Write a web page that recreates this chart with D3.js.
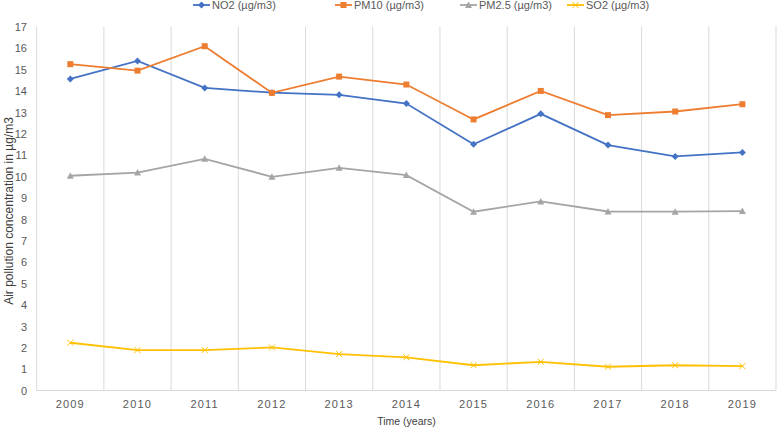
<!DOCTYPE html>
<html><head><meta charset="utf-8">
<script src="https://cdn.jsdelivr.net/npm/d3@7"></script>
<style>body{margin:0;background:#fff}svg{display:block}text{font-family:"Liberation Sans",Arial,sans-serif}</style>
</head><body><svg id="c" width="777" height="429"></svg>
<script>
const years = ["2009","2010","2011","2012","2013","2014","2015","2016","2017","2018","2019"];
const no2  = [14.55,15.39,14.13,13.91,13.81,13.40,11.50,12.92,11.46,10.93,11.12];
const pm10 = [15.24,14.94,16.08,13.90,14.66,14.29,12.66,13.99,12.86,13.03,13.37];
const pm25 = [10.03,10.18,10.82,9.98,10.40,10.06,8.35,8.83,8.36,8.35,8.38];
const so2  = [2.23,1.89,1.89,2.01,1.70,1.55,1.18,1.34,1.11,1.18,1.14];
const seriesNames = ["NO2 (µg/m3)","PM10 (µg/m3)","PM2.5 (µg/m3)","SO2 (µg/m3)"];
const yTicks = d3.range(0,18);

const series = [
  {name:seriesNames[0], values:no2,  color:"#4472C4", sym:"diamond"},
  {name:seriesNames[1], values:pm10, color:"#ED7D31", sym:"square"},
  {name:seriesNames[2], values:pm25, color:"#A5A5A5", sym:"triangle"},
  {name:seriesNames[3], values:so2,  color:"#FFC000", sym:"x"}
];

const svg = d3.select("#c");
const x = d3.scaleBand().domain(years).range([36.7, 776]).padding(0);
const y = d3.scaleLinear().domain([0,17]).range([390.5, 26.5]);

// vertical gridlines at category boundaries
const bounds = years.map(d=>x(d)).concat([x.range()[1]]);
svg.append("g").selectAll("line").data(bounds).join("line")
  .attr("x1",d=>d).attr("x2",d=>d).attr("y1",y(17)).attr("y2",y(0))
  .attr("stroke","#d9d9d9").attr("stroke-width",1);
// baseline
svg.append("line").attr("x1",x.range()[0]).attr("x2",x.range()[1]).attr("y1",y(0)).attr("y2",y(0))
  .attr("stroke","#d9d9d9").attr("stroke-width",1);

// y axis
const yAxis = d3.axisLeft(y).tickValues(yTicks).tickSize(0).tickPadding(0).tickFormat(d3.format("d"));
const gy = svg.append("g").attr("transform","translate(27,0)").call(yAxis);
gy.select(".domain").remove();
gy.selectAll("text").attr("fill","#595959").style("font-size","11px").attr("dy","0.35em");

// x axis
const xAxis = d3.axisBottom(x).tickSize(0).tickPadding(0);
const gx = svg.append("g").attr("transform","translate(0,"+(y(0)+10)+")").call(xAxis);
gx.select(".domain").remove();
gx.selectAll("text").attr("fill","#595959").style("font-size","11px").style("letter-spacing","1.2px").attr("dy","0.71em");

// axis titles
svg.append("text").attr("x",406.5).attr("y",425).attr("text-anchor","middle")
  .attr("fill","#404040").style("font-size","10.5px").text("Time (years)");
svg.append("text").attr("transform","translate(13,211) rotate(-90)").attr("text-anchor","middle")
  .attr("fill","#404040").style("font-size","12px").text("Air pollution concentration in µg/m3");

const cx = d=>x(d)+x.bandwidth()/2;
const line = d3.line().x((d,i)=>cx(years[i])).y(d=>y(d));
function marker(g, sym, color, px, py){
  if(sym==="diamond"){
    g.append("path").attr("d",`M${px},${py-3.5}L${px+3.5},${py}L${px},${py+3.5}L${px-3.5},${py}Z`).attr("fill",color);
  } else if(sym==="square"){
    g.append("rect").attr("x",px-3).attr("y",py-3).attr("width",6).attr("height",6).attr("fill",color);
  } else if(sym==="triangle"){
    g.append("path").attr("d",`M${px},${py-3.5}L${px+3.5},${py+3}L${px-3.5},${py+3}Z`).attr("fill",color);
  } else {
    g.append("path").attr("d",`M${px-3},${py-3}L${px+3},${py+3}M${px-3},${py+3}L${px+3},${py-3}`).attr("stroke",color).attr("stroke-width",1).attr("fill","none");
  }
}
series.forEach(s=>{
  const g = svg.append("g");
  g.append("path").datum(s.values).attr("d",line).attr("fill","none").attr("stroke",s.color).attr("stroke-width",1.8);
  s.values.forEach((v,i)=>marker(g,s.sym,s.color,cx(years[i]),y(v)));
});

// legend
const legX = [193,335,460,567];
series.forEach((s,i)=>{
  const g = svg.append("g");
  const lx = legX[i], ly = 5;
  g.append("line").attr("x1",lx).attr("x2",lx+17).attr("y1",ly).attr("y2",ly).attr("stroke",s.color).attr("stroke-width",1.8);
  marker(g,s.sym,s.color,lx+8.5,ly);
  g.append("text").attr("x",lx+19).attr("y",ly).attr("dy","0.35em").attr("fill","#595959").style("font-size","11px").text(s.name);
});
</script></body></html>
